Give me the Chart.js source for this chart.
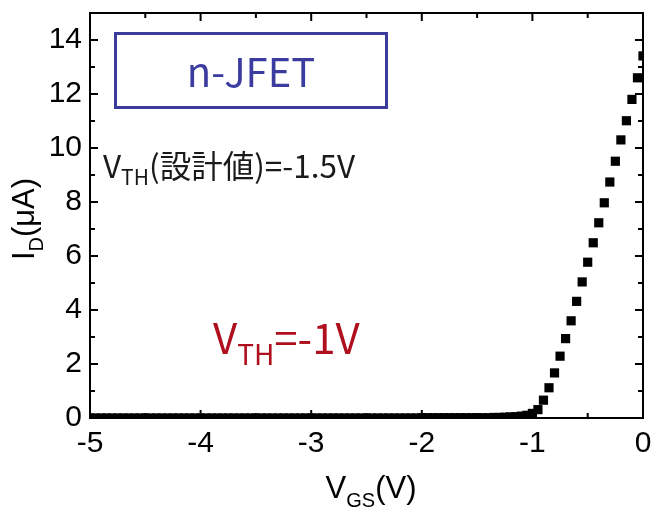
<!DOCTYPE html>
<html>
<head>
<meta charset="utf-8">
<script src="https://cdn.jsdelivr.net/npm/chart.js@4.4.1/dist/chart.umd.min.js"></script>
<style>
  html, body { margin: 0; padding: 0; background: #ffffff; }
  #c { display: block; }
</style>
</head>
<body>
<canvas id="c" width="652" height="509"></canvas>
<script>
// ---- data ----
const vgs = [
  -5.00,-4.95,-4.90,-4.85,-4.80,-4.75,-4.70,-4.65,-4.60,-4.55,
  -4.50,-4.45,-4.40,-4.35,-4.30,-4.25,-4.20,-4.15,-4.10,-4.05,
  -4.00,-3.95,-3.90,-3.85,-3.80,-3.75,-3.70,-3.65,-3.60,-3.55,
  -3.50,-3.45,-3.40,-3.35,-3.30,-3.25,-3.20,-3.15,-3.10,-3.05,
  -3.00,-2.95,-2.90,-2.85,-2.80,-2.75,-2.70,-2.65,-2.60,-2.55,
  -2.50,-2.45,-2.40,-2.35,-2.30,-2.25,-2.20,-2.15,-2.10,-2.05,
  -2.00,-1.95,-1.90,-1.85,-1.80,-1.75,-1.70,-1.65,-1.60,-1.55,
  -1.50,-1.45,-1.40,-1.35,-1.30,-1.25,-1.20,-1.15,-1.10,-1.05,
  -1.00,-0.95,-0.90,-0.85,-0.80,-0.75,-0.70,-0.65,-0.60,-0.55,
  -0.50,-0.45,-0.40,-0.35,-0.30,-0.25,-0.20,-0.15,-0.10,-0.05,
   0.00
];
const idUA = [
  0,0,0,0,0,0,0,0,0,0,
  0,0,0,0,0,0,0,0,0,0,
  0,0,0,0,0,0,0,0,0,0,
  0,0,0,0,0,0,0,0,0,0,
  0,0,0,0,0,0,0,0,0,0,
  0,0,0,0,0,0,0,0,0,0,
  0.01,0.01,0.01,0.01,0.01,0.01,0.01,0.01,0.01,0.01,
  0.01,0.01,0.01,0.02,0.02,0.03,0.04,0.05,0.07,0.10,
  0.17,0.31,0.66,1.12,1.67,2.29,2.94,3.60,4.32,5.04,
  5.77,6.49,7.23,7.97,8.74,9.51,10.30,11.01,11.80,12.60,
  13.41
];
const xTickVals = [-5, -4, -3, -2, -1, 0];
const xTickLabels = ['-5', '-4', '-3', '-2', '-1', '0'];
const xMinorVals = [-4.5, -3.5, -2.5, -1.5, -0.5];
const yTickVals = [0, 2, 4, 6, 8, 10, 12, 14];
const yTickLabels = ['0', '2', '4', '6', '8', '10', '12', '14'];
const yMinorVals = [1, 3, 5, 7, 9, 11, 13, 15];

const AX_FONT = "'Liberation Sans', Arial, sans-serif";
const ANN_FONT = "'Noto Sans CJK JP', 'Noto Sans', sans-serif";

// draw text made of runs (for subscripts)
function drawRuns(ctx, runs, x, y, align) {
  let total = 0;
  runs.forEach(r => { ctx.font = r.size + 'px ' + r.family; total += ctx.measureText(r.t).width; });
  let cx = align === 'center' ? x - total / 2 : x;
  ctx.textAlign = 'left';
  ctx.textBaseline = 'alphabetic';
  runs.forEach(r => {
    ctx.font = r.size + 'px ' + r.family;
    ctx.fillStyle = r.color;
    ctx.fillText(r.t, cx, y + (r.dy || 0));
    cx += ctx.measureText(r.t).width;
  });
}

function drawFrame(chart) {
  const { ctx, chartArea: a } = chart;
  const xs = chart.scales.x, ys = chart.scales.y;
  ctx.save();
  ctx.strokeStyle = '#000';
  ctx.lineWidth = 2;
  const major = 8, minor = 5;
  ctx.beginPath();
  xTickVals.forEach(v => {
    const p = xs.getPixelForValue(v);
    ctx.moveTo(p, a.bottom); ctx.lineTo(p, a.bottom - major);
    ctx.moveTo(p, a.top); ctx.lineTo(p, a.top + major);
  });
  xMinorVals.forEach(v => {
    const p = xs.getPixelForValue(v);
    ctx.moveTo(p, a.bottom); ctx.lineTo(p, a.bottom - minor);
    ctx.moveTo(p, a.top); ctx.lineTo(p, a.top + minor);
  });
  yTickVals.forEach(v => {
    const p = ys.getPixelForValue(v);
    ctx.moveTo(a.left, p); ctx.lineTo(a.left + major, p);
    ctx.moveTo(a.right, p); ctx.lineTo(a.right - major, p);
  });
  yMinorVals.forEach(v => {
    const p = ys.getPixelForValue(v);
    ctx.moveTo(a.left, p); ctx.lineTo(a.left + minor, p);
    ctx.moveTo(a.right, p); ctx.lineTo(a.right - minor, p);
  });
  ctx.stroke();
  ctx.lineWidth = 2;
  ctx.strokeRect(a.left, a.top, a.right - a.left, a.bottom - a.top);
  ctx.restore();
}

function drawAnnotations(chart) {
  const { ctx } = chart;
  ctx.save();
  // axis titles
  drawRuns(ctx, [
    { t: 'V', size: 31, family: AX_FONT, color: '#000' },
    { t: 'GS', size: 20, family: AX_FONT, color: '#000', dy: 9 },
    { t: '(V)', size: 31, family: AX_FONT, color: '#000' }
  ], 371, 498, 'center');
  ctx.save();
  ctx.translate(34, 219);
  ctx.rotate(-Math.PI / 2);
  drawRuns(ctx, [
    { t: 'I', size: 31, family: AX_FONT, color: '#000' },
    { t: 'D', size: 20, family: AX_FONT, color: '#000', dy: 9 },
    { t: '(\u03BCA)', size: 31, family: AX_FONT, color: '#000' }
  ], 0, 0, 'center');
  ctx.restore();

  // n-JFET box
  ctx.strokeStyle = '#3b3b9c';
  ctx.lineWidth = 3;
  ctx.strokeRect(115.5, 33.5, 271, 74);
  ctx.fillStyle = '#3c3ca0';
  ctx.font = '40px ' + ANN_FONT;
  ctx.textAlign = 'center';
  ctx.textBaseline = 'middle';
  ctx.fillText('n-JFET', 251, 72);

  // design threshold
  drawRuns(ctx, [
    { t: 'V', size: 31.5, family: ANN_FONT, color: '#1a1a1a' },
    { t: 'TH', size: 21, family: ANN_FONT, color: '#1a1a1a', dy: 7 },
    { t: '(設計値)=-1.5V', size: 31.5, family: ANN_FONT, color: '#1a1a1a' }
  ], 103, 178, 'left');

  // measured threshold
  drawRuns(ctx, [
    { t: 'V', size: 42, family: ANN_FONT, color: '#b0101e' },
    { t: 'TH', size: 28, family: ANN_FONT, color: '#b0101e', dy: 11 },
    { t: '=-1V', size: 42, family: ANN_FONT, color: '#b0101e' }
  ], 213, 354, 'left');
  ctx.restore();
}

const framePlugin = {
  id: 'frame',
  afterDraw(chart) {
    drawFrame(chart);
    drawAnnotations(chart);
  }
};

new Chart(document.getElementById('c').getContext('2d'), {
  type: 'scatter',
  data: {
    datasets: [{
      data: vgs.map((x, i) => ({ x: x, y: idUA[i] })),
      pointStyle: 'rect',
      pointRadius: 6.5,
      pointHoverRadius: 6.5,
      backgroundColor: '#000',
      borderColor: '#000',
      borderWidth: 0,
      clip: 0
    }]
  },
  options: {
    responsive: false,
    animation: false,
    events: [],
    layout: { padding: { top: 13, right: 9, left: 0, bottom: 0 } },
    plugins: { legend: { display: false }, tooltip: { enabled: false } },
    scales: {
      x: {
        type: 'linear', min: -5, max: 0,
        grid: { display: false, drawTicks: false }, border: { display: false },
        afterBuildTicks(s) { s.ticks = xTickVals.map(v => ({ value: v })); },
        afterFit(s) { s.height = 91; s.paddingLeft = 0; s.paddingRight = 0; },
        ticks: {
          padding: 8, color: '#000', maxRotation: 0, autoSkip: false,
          font: { family: AX_FONT, size: 30 },
          callback: v => xTickLabels[xTickVals.indexOf(v)]
        }
      },
      y: {
        type: 'linear', min: 0, max: 15,
        grid: { display: false, drawTicks: false }, border: { display: false },
        afterBuildTicks(s) { s.ticks = yTickVals.map(v => ({ value: v })); },
        afterFit(s) { s.width = 90; s.paddingTop = 0; s.paddingBottom = 0; },
        ticks: {
          padding: 8, color: '#000', autoSkip: false,
          font: { family: AX_FONT, size: 30 },
          callback: v => yTickLabels[yTickVals.indexOf(v)]
        }
      }
    }
  },
  plugins: [framePlugin]
});
</script>
</body>
</html>
